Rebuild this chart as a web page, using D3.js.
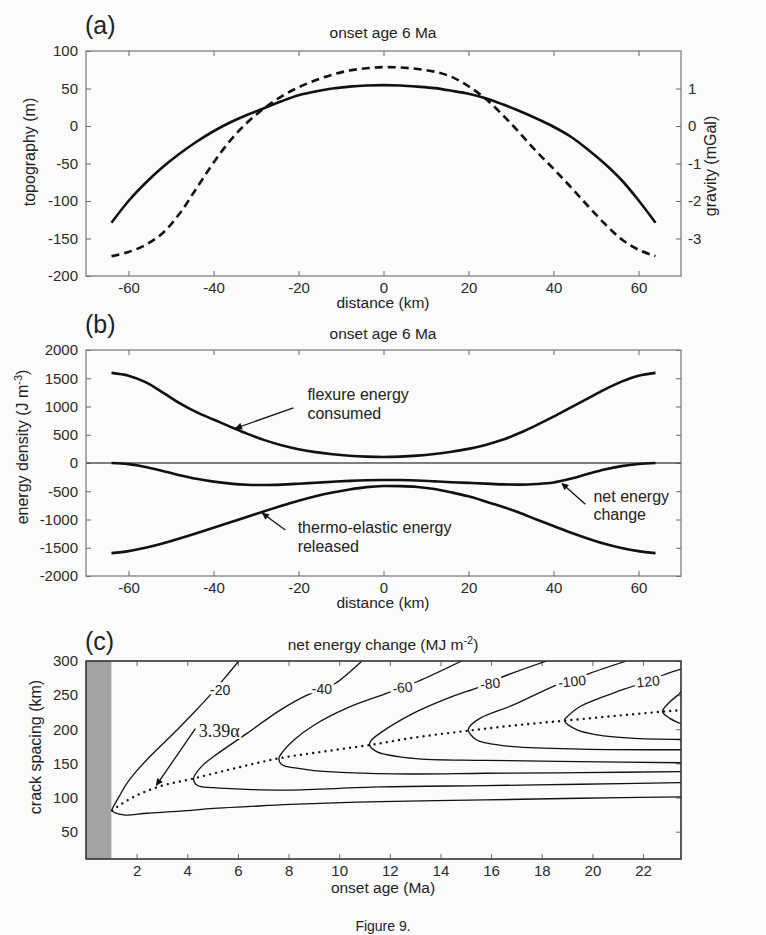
<!DOCTYPE html>
<html>
<head>
<meta charset="utf-8">
<script src="https://cdn.jsdelivr.net/npm/d3@7"></script>
<style>
    body { margin: 0; background: #fbfbfb; }
    svg { display: block; font-family: "Liberation Sans", Arial, sans-serif; }
</style>
</head>
<body>
<svg id="figure" width="766" height="935"></svg>
<script>
// ---- Data: panel (a) and (b), profile across the swell (km) ----
const distanceKm = [-64, -60, -56, -52, -48, -44, -40, -36, -32, -28, -24, -20, -16, -12, -8, -4, 0,
    4, 8, 12, 16, 20, 24, 28, 32, 36, 40, 44, 48, 52, 56, 60, 64];
const topography = [-129, -100, -76, -55, -37, -21, -7, 5, 15, 24, 33, 41, 46, 50, 52.5, 54, 54.5,
    54, 52.5, 50.5, 47, 43, 37, 29, 20, 10, -1, -14, -31, -50, -72, -99, -129];
const gravity = [-3.47, -3.36, -3.17, -2.86, -2.34, -1.66, -0.98, -0.38, 0.1, 0.48, 0.79, 1.03, 1.22, 1.37, 1.48, 1.54, 1.57,
    1.56, 1.52, 1.45, 1.31, 1.06, 0.73, 0.3, -0.18, -0.68, -1.14, -1.62, -2.12, -2.6, -3.02, -3.3, -3.47];
const flexureEnergy = [1595, 1545, 1430, 1250, 1060, 900, 770, 640, 515, 405, 315, 245, 193, 155, 128, 112, 106,
    112, 130, 160, 200, 250, 320, 410, 530, 670, 820, 980, 1140, 1300, 1440, 1545, 1595];
const thermoEnergy = [-1595, -1560, -1500, -1425, -1335, -1242, -1147, -1050, -950, -853, -758, -668, -588, -522, -468, -427, -407,
    -410, -425, -460, -520, -590, -680, -775, -880, -1000, -1115, -1230, -1335, -1430, -1505, -1560, -1595];
const netEnergy = [0, -20, -70, -140, -215, -280, -330, -365, -385, -390, -382, -367, -350, -332, -316, -305, -300,
    -302, -310, -325, -340, -352, -365, -378, -383, -372, -345, -280, -195, -115, -55, -18, 0];

// ---- Data: panel (c), contour lines of net energy change, [onset age (Ma), crack spacing (km)] ----
const contourLevels = [-20, -40, -60, -80, -100, -120, -140];
const contourLabels = ["-20", "-40", "-60", "-80", "-100", "120", ""];
const contourLabelAt = [[5.3, 258], [9.32, 259], [12.5, 261], [15.96, 267], [19.2, 270], [22.2, 270], null];
const contour20 = [[6.03, 300], [5.5, 276], [4.9, 250], [4.3, 226], [3.7, 203], [3.1, 181], [2.5, 159],
    [2.0, 139], [1.6, 120], [1.3, 101], [1.1, 88], [1.03, 81], [1.49, 74.5], [2.41, 77], [3.73, 80],
    [5.04, 84], [6.36, 86.7], [8.07, 90], [11.62, 94], [15.76, 96.5], [19.5, 99], [23.5, 101]];
const contour40 = [[10.9, 300], [9.84, 267], [9.3, 258], [8.73, 250], [7.67, 228], [6.36, 194], [5.04, 160],
    [4.55, 145], [4.25, 128], [4.39, 118], [5.04, 114.5], [6.36, 112], [8.0, 111], [11.6, 115.5],
    [15.76, 117.5], [19.5, 119.5], [23.5, 122]];
const contour60 = [[14.84, 300], [13.1, 270], [12.5, 262], [11.9, 253], [10.3, 231], [9.0, 206], [8.2, 184],
    [7.75, 166], [7.62, 157.5], [7.74, 148], [8.33, 143], [9.0, 139.5], [10.3, 136.5], [12.9, 134.5],
    [15.76, 135.6], [19.5, 136.5], [23.5, 138]];
const contour80 = [[18.2, 300], [16.35, 275], [16.0, 268], [15.4, 260], [14.25, 245], [12.9, 223], [11.6, 194],
    [11.25, 183], [11.2, 177], [11.5, 167], [12.9, 157.5], [15.76, 154.5], [19.5, 152.5], [23.5, 151]];
const contour100 = [[21.35, 300], [19.9, 282], [19.2, 272], [18.6, 265], [16.88, 235.6], [15.56, 216],
    [15.15, 204], [15.1, 198], [15.4, 185], [15.8, 180], [16.88, 174.5], [19.5, 171], [23.5, 170]];
const contour120 = [[23.5, 288], [22.8, 279.5], [22.2, 271], [21.6, 263], [20.8, 252.7], [19.5, 233],
    [19.05, 220], [18.9, 212.6], [19.4, 199], [20.2, 191.7], [21.5, 187], [23.5, 185]];
const contour140 = [[23.5, 256], [23.45, 252.7], [23.06, 240], [22.77, 225.8], [23.06, 216], [23.45, 208.8], [23.5, 208]];
const contourLines = [contour20, contour40, contour60, contour80, contour100, contour120, contour140];

// 3.39 alpha curve (spacing of minimum energy)
const optimalAge = [1.03, 1.5, 2.0, 2.8, 4.25, 6.0, 7.62, 9.5, 11.2, 13.0, 15.1, 17.0, 18.9, 21.0, 22.77, 23.5];
const optimalSpacing = [81, 93, 103, 115, 128, 144, 157.5, 168, 177, 188, 198, 206, 212.6, 220, 225.8, 228];

// ---- Layout ----
const bg = "#fbfbfb";
const plotLeft = 86;
const plotRight = 681;
const panelA = { top: 51, bottom: 276 };
const panelB = { top: 350, bottom: 576 };
const panelC = { top: 661, bottom: 859 };

const svg = d3.select("#figure");
svg.append("rect").attr("width", 766).attr("height", 935).attr("fill", bg);

const defs = svg.append("defs");

// arrow head marker
defs.append("marker")
    .attr("id", "arrow")
    .attr("viewBox", "0 0 10 10")
    .attr("refX", 9)
    .attr("refY", 5)
    .attr("markerWidth", 9)
    .attr("markerHeight", 7)
    .attr("markerUnits", "userSpaceOnUse")
    .attr("orient", "auto")
    .append("path")
    .attr("d", "M0,0 L10,5 L0,10 z")
    .attr("fill", "#111");

// inward ticks, Matlab style
function addAxis(axisFn, scale, ticks, transform, showLabels, padding) {
    const axis = axisFn(scale)
        .tickValues(ticks)
        .tickSizeInner(-5)
        .tickSizeOuter(0)
        .tickPadding(padding)
        .tickFormat(d => showLabels ? String(d) : "");
    const g = svg.append("g")
        .attr("transform", transform)
        .call(axis);
    g.attr("font-family", null).attr("font-size", 15);
    g.select(".domain").remove();
    g.selectAll(".tick line").attr("stroke", "#666");
    g.selectAll(".tick text").attr("fill", "#2a2a2a");
    return g;
}

function addFrame(panel, stroke, width) {
    svg.append("rect")
        .attr("x", plotLeft)
        .attr("y", panel.top)
        .attr("width", plotRight - plotLeft)
        .attr("height", panel.bottom - panel.top)
        .attr("fill", "none")
        .attr("stroke", stroke)
        .attr("stroke-width", width);
}

function addText(x, y, txt, size, anchor) {
    return svg.append("text")
        .attr("x", x)
        .attr("y", y)
        .attr("font-size", size)
        .attr("text-anchor", anchor || "middle")
        .attr("fill", "#222")
        .text(txt);
}

function addYLabel(x, y, txt, size) {
    return svg.append("text")
        .attr("transform", `translate(${x},${y}) rotate(-90)`)
        .attr("font-size", size)
        .attr("text-anchor", "middle")
        .attr("fill", "#222")
        .text(txt);
}

const xDist = d3.scaleLinear().domain([-70, 70]).range([plotLeft, plotRight]);
const distTicks = [-60, -40, -20, 0, 20, 40, 60];

// ================= Panel (a) =================
const yTopo = d3.scaleLinear().domain([-200, 100]).range([panelA.bottom, panelA.top]);
const yGrav = d3.scaleLinear().domain([-4, 2]).range([panelA.bottom, panelA.top]);

addAxis(d3.axisBottom, xDist, distTicks, `translate(0,${panelA.bottom})`, true, 6);
addAxis(d3.axisTop, xDist, distTicks, `translate(0,${panelA.top})`, false, 6);
addAxis(d3.axisLeft, yTopo, d3.range(-200, 101, 50), `translate(${plotLeft},0)`, true, 8);
addAxis(d3.axisRight, yGrav, [-3, -2, -1, 0, 1], `translate(${plotRight},0)`, true, 7);
addFrame(panelA, "#777", 1.2);

const topoLine = d3.line()
    .x((d, i) => xDist(distanceKm[i]))
    .y(d => yTopo(d))
    .curve(d3.curveCatmullRom.alpha(0.5));
const gravLine = d3.line()
    .x((d, i) => xDist(distanceKm[i]))
    .y(d => yGrav(d))
    .curve(d3.curveCatmullRom.alpha(0.5));

svg.append("path")
    .attr("d", gravLine(gravity))
    .attr("fill", "none")
    .attr("stroke", "#111")
    .attr("stroke-width", 2.6)
    .attr("stroke-dasharray", "8,5");
svg.append("path")
    .attr("d", topoLine(topography))
    .attr("fill", "none")
    .attr("stroke", "#111")
    .attr("stroke-width", 2.6);

addText(85, 34, "(a)", 25, "start");
addText(383, 38, "onset age 6 Ma", 15.5);
addText(383, 308, "distance (km)", 15.5);
addYLabel(35, 152, "topography (m)", 16);
addYLabel(716, 166, "gravity (mGal)", 16);

// ================= Panel (b) =================
const yEnergy = d3.scaleLinear().domain([-2000, 2000]).range([panelB.bottom, panelB.top]);
const energyTicks = d3.range(-2000, 2001, 500);

addAxis(d3.axisBottom, xDist, distTicks, `translate(0,${panelB.bottom})`, true, 6);
addAxis(d3.axisTop, xDist, distTicks, `translate(0,${panelB.top})`, false, 6);
addAxis(d3.axisLeft, yEnergy, energyTicks, `translate(${plotLeft},0)`, true, 8);
addAxis(d3.axisRight, yEnergy, energyTicks, `translate(${plotRight},0)`, false, 7);

svg.append("line")
    .attr("x1", plotLeft)
    .attr("x2", plotRight)
    .attr("y1", yEnergy(0))
    .attr("y2", yEnergy(0))
    .attr("stroke", "#555")
    .attr("stroke-width", 1.6);
addFrame(panelB, "#777", 1.2);

const energyLine = d3.line()
    .x((d, i) => xDist(distanceKm[i]))
    .y(d => yEnergy(d))
    .curve(d3.curveCatmullRom.alpha(0.5));

[flexureEnergy, thermoEnergy, netEnergy].forEach(series => {
    svg.append("path")
        .attr("d", energyLine(series))
        .attr("fill", "none")
        .attr("stroke", "#111")
        .attr("stroke-width", 2.6);
});

// annotations: text lines, text anchor point and arrow from/to, in data units
const energyNotes = [
    { lines: ["flexure energy", "consumed"], at: [-17.9, 1115], from: [-21.2, 975], to: [-34.8, 615] },
    { lines: ["thermo-elastic energy", "released"], at: [-20.2, -1240], from: [-23.1, -1186], to: [-28.5, -890] },
    { lines: ["net energy", "change"], at: [49.4, -690], from: [47.5, -730], to: [42, -362] }
];
energyNotes.forEach(note => {
    const t = svg.append("text")
        .attr("x", xDist(note.at[0]))
        .attr("y", yEnergy(note.at[1]))
        .attr("font-size", 16)
        .attr("fill", "#222");
    note.lines.forEach((line, i) => {
        t.append("tspan")
            .attr("x", xDist(note.at[0]))
            .attr("dy", i === 0 ? 0 : 18.5)
            .text(line);
    });
    svg.append("line")
        .attr("x1", xDist(note.from[0]))
        .attr("y1", yEnergy(note.from[1]))
        .attr("x2", xDist(note.to[0]))
        .attr("y2", yEnergy(note.to[1]))
        .attr("stroke", "#111")
        .attr("stroke-width", 1.3)
        .attr("marker-end", "url(#arrow)");
});

addText(85, 333, "(b)", 25, "start");
addText(383, 339, "onset age 6 Ma", 15.5);
addText(383, 608, "distance (km)", 15.5);
const eLabel = addYLabel(28, 447, "energy density  (J m", 16);
eLabel.append("tspan").attr("font-size", 11).attr("dy", -6).text("-3");
eLabel.append("tspan").attr("dy", 6).text(")");

// ================= Panel (c) =================
const xAge = d3.scaleLinear().domain([0, 23.5]).range([plotLeft, plotRight]);
const ySpacing = d3.scaleLinear().domain([10, 300]).range([panelC.bottom, panelC.top]);
const ageTicks = d3.range(2, 23, 2);

addAxis(d3.axisBottom, xAge, ageTicks, `translate(0,${panelC.bottom})`, true, 6);
addAxis(d3.axisTop, xAge, ageTicks, `translate(0,${panelC.top})`, false, 6);
addAxis(d3.axisLeft, ySpacing, d3.range(50, 301, 50), `translate(${plotLeft},0)`, true, 8);
addAxis(d3.axisRight, ySpacing, d3.range(50, 301, 50), `translate(${plotRight},0)`, false, 7);

// no-data band for onset ages below 1 Ma
svg.append("rect")
    .attr("x", xAge(0))
    .attr("y", panelC.top)
    .attr("width", xAge(1) - xAge(0))
    .attr("height", panelC.bottom - panelC.top)
    .attr("fill", "#a3a3a3");

const contourPath = d3.line()
    .x(d => xAge(d[0]))
    .y(d => ySpacing(d[1]))
    .curve(d3.curveCatmullRom.alpha(0.5));

defs.append("clipPath")
    .attr("id", "clipC")
    .append("rect")
    .attr("x", plotLeft)
    .attr("y", panelC.top)
    .attr("width", plotRight - plotLeft)
    .attr("height", panelC.bottom - panelC.top);

const contourG = svg.append("g").attr("clip-path", "url(#clipC)");
contourLines.forEach((pts, i) => {
    contourG.append("path")
        .attr("d", contourPath(pts))
        .attr("fill", "none")
        .attr("stroke", "#111")
        .attr("stroke-width", 1.3)
        .attr("data-level", contourLevels[i]);
});

const optimalLine = d3.line()
    .x((d, i) => xAge(optimalAge[i]))
    .y(d => ySpacing(d))
    .curve(d3.curveMonotoneX);
contourG.append("path")
    .attr("d", optimalLine(optimalSpacing))
    .attr("fill", "none")
    .attr("stroke", "#111")
    .attr("stroke-width", 2.4)
    .attr("stroke-linecap", "round")
    .attr("stroke-dasharray", "0,6.2");

contourLabelAt.forEach((pos, i) => {
    if (!pos) return;
    const x = xAge(pos[0]);
    const y = ySpacing(pos[1]);
    svg.append("text")
        .attr("transform", `translate(${x},${y}) rotate(${i < 2 ? 0 : -6})`)
        .attr("dy", "0.35em")
        .attr("font-size", 14)
        .attr("text-anchor", "middle")
        .attr("fill", "#222")
        .attr("stroke", bg)
        .attr("stroke-width", 6)
        .attr("paint-order", "stroke")
        .text(contourLabels[i]);
});

// 3.39 alpha annotation
svg.append("text")
    .attr("x", xAge(4.45))
    .attr("y", ySpacing(188))
    .attr("font-family", "'Liberation Serif', 'Times New Roman', serif")
    .attr("font-size", 18)
    .attr("fill", "#222")
    .attr("stroke", bg)
    .attr("stroke-width", 4)
    .attr("paint-order", "stroke")
    .text("3.39\u03B1");
svg.append("line")
    .attr("x1", xAge(4.32))
    .attr("y1", ySpacing(201))
    .attr("x2", xAge(2.78))
    .attr("y2", ySpacing(118))
    .attr("stroke", "#111")
    .attr("stroke-width", 1.3)
    .attr("marker-end", "url(#arrow)");

addFrame(panelC, "#333", 1.6);

addText(85, 650, "(c)", 25, "start");
const cTitle = addText(383, 650, "net energy change (MJ m", 15.5);
cTitle.append("tspan").attr("font-size", 11).attr("dy", -6).text("-2");
cTitle.append("tspan").attr("dy", 6).text(")");
addText(383, 893, "onset age (Ma)", 15.5);
addYLabel(41, 747, "crack spacing (km)", 16);

addText(383, 931, "Figure 9.", 14);
</script>
</body>
</html>
